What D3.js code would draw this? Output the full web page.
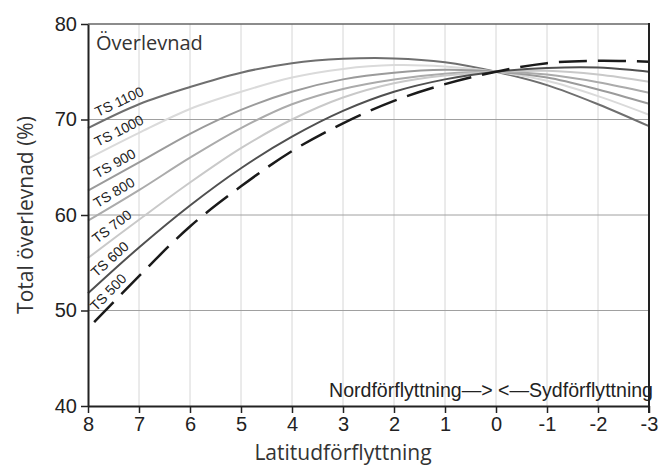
<!DOCTYPE html>
<html>
<head>
<meta charset="utf-8">
<script src="https://cdn.jsdelivr.net/npm/d3@7"></script>
<style>
    body { margin: 0; background: #fff; }
    svg { display: block; }
</style>
</head>
<body>
<svg id="chart"></svg>
<script>
// latitudförflyttning (x) och överlevnad i procent per temperatursumma
const latitude = [8, 7, 6, 5, 4, 3, 2, 1, 0, -1, -2, -3]
const ts1100 = [69.1, 71.6, 73.4, 74.9, 75.9, 76.35, 76.4, 76.0, 75, 73.6, 71.6, 69.3]
const ts1000 = [65.9, 68.6, 71.1, 72.9, 74.4, 75.3, 75.7, 75.55, 75, 74.05, 72.45, 70.5]
const ts900 = [62.55, 65.5, 68.5, 71.0, 72.9, 74.2, 74.9, 75.2, 75, 74.4, 73.15, 71.65]
const ts800 = [59.4, 62.6, 66.0, 69.1, 71.6, 73.2, 74.2, 74.8, 75, 74.7, 73.9, 72.8]
const ts700 = [55.5, 59.5, 63.4, 67.0, 70.0, 72.3, 73.8, 74.6, 75, 75.1, 74.7, 73.95]
const ts600 = [51.8, 56.6, 61.0, 64.9, 68.2, 70.9, 72.9, 74.2, 75, 75.4, 75.45, 75.0]
const ts500 = [48.1, 53.6, 58.8, 63.0, 66.7, 69.6, 71.95, 73.7, 75, 75.9, 76.15, 76.05]

const seriesNames = ['TS 1100', 'TS 1000', 'TS 900', 'TS 800', 'TS 700', 'TS 600', 'TS 500']
const seriesValues = [ts1100, ts1000, ts900, ts800, ts700, ts600, ts500]
const seriesColors = ['#6f6f6f', '#dadada', '#9b9b9b', '#ababab', '#c9c9c9', '#505050', '#1a1a1a']

const xTicks = [8, 7, 6, 5, 4, 3, 2, 1, 0, -1, -2, -3]
const yTicks = [40, 50, 60, 70, 80]

const width = 660
const height = 466
const margin = {top: 24, right: 11, bottom: 60, left: 88}

let svg = d3.select('#chart')
    .attr('width', width)
    .attr('height', height)

let x = d3.scaleLinear()
    .domain([8, -3])
    .range([margin.left, width - margin.right])

let y = d3.scaleLinear()
    .domain([40, 80])
    .range([height - margin.bottom, margin.top])

// rutnät
svg.append('g')
    .selectAll('line')
    .data(xTicks.filter(d => d !== 8 && d !== -3))
    .enter().append('line')
    .attr('x1', d => x(d)).attr('x2', d => x(d))
    .attr('y1', y(80)).attr('y2', y(40))
    .attr('stroke', '#d6d6d6')
    .attr('stroke-width', 1)

svg.append('g')
    .selectAll('line')
    .data([50, 60, 70])
    .enter().append('line')
    .attr('x1', x(8)).attr('x2', x(-3))
    .attr('y1', d => y(d)).attr('y2', d => y(d))
    .attr('stroke', '#a0a0a0')
    .attr('stroke-width', 1)

// ram upptill
svg.append('line')
    .attr('x1', x(8)).attr('x2', x(-3))
    .attr('y1', y(80)).attr('y2', y(80))
    .attr('stroke', '#666')
    .attr('stroke-width', 1.5)

// kurvor
let line = d3.line()
    .x((d, i) => x(latitude[i]))
    .y(d => y(d))
    .curve(d3.curveCatmullRom)

let series = seriesNames.map((name, i) => ({name: name, values: seriesValues[i], color: seriesColors[i]}))

svg.append('g')
    .selectAll('path')
    .data(series)
    .enter().append('path')
    .attr('d', d => line(d.values))
    .attr('fill', 'none')
    .attr('stroke', d => d.color)
    .attr('stroke-width', d => d.name === 'TS 500' ? 2.5 : 2)
    .attr('stroke-dasharray', d => d.name === 'TS 500' ? '28,11' : null)
    .attr('stroke-dashoffset', d => d.name === 'TS 500' ? 30 : null)

// etiketter längs kurvorna
svg.append('g')
    .selectAll('text')
    .data(series)
    .enter().append('text')
    .attr('transform', d => {
        let x0 = x(latitude[0]), y0 = y(d.values[0])
        let x1 = x(latitude[1]), y1 = y(d.values[1])
        let angle = Math.atan2(y1 - y0, x1 - x0) * 180 / Math.PI
        let px = x(7.76)
        let py = y0 + (y1 - y0) * (px - x0) / (x1 - x0)
        return 'translate(' + px + ',' + py + ') rotate(' + angle + ')'
    })
    .attr('dy', -6)
    .attr('font-family', 'Liberation Sans, Arial, sans-serif')
    .attr('font-size', 14)
    .attr('fill', '#222')
    .text(d => d.name)

// axlar
let xAxis = svg.append('g')
    .attr('transform', 'translate(0,' + y(40) + ')')
    .call(d3.axisBottom(x).tickValues(xTicks).tickSize(7).tickSizeOuter(0).tickFormat(d => String(d)))

let yAxis = svg.append('g')
    .attr('transform', 'translate(' + x(8) + ',0)')
    .call(d3.axisLeft(y).tickValues(yTicks).tickSize(7).tickSizeOuter(0))

for (let ax of [xAxis, yAxis]) {
    ax.select('.domain').attr('stroke', '#222').attr('stroke-width', 2)
    ax.selectAll('.tick line').attr('stroke', '#222').attr('stroke-width', 1.5)
    ax.selectAll('.tick text')
        .attr('font-family', 'Liberation Sans, Arial, sans-serif')
        .attr('font-size', 20)
        .attr('fill', '#222')
}
xAxis.selectAll('.tick text').attr('dy', '0.71em').attr('y', 11)
yAxis.selectAll('.tick text').attr('x', -11)

// höger ram
svg.append('line')
    .attr('x1', x(-3)).attr('x2', x(-3))
    .attr('y1', y(80) - 1).attr('y2', y(40) + 7)
    .attr('stroke', '#222')
    .attr('stroke-width', 2)

// texter
svg.append('text')
    .attr('x', 96)
    .attr('y', 50)
    .attr('font-family', 'Open Sans, sans-serif')
    .attr('font-size', 20)
    .attr('fill', '#333')
    .text('Överlevnad')

svg.append('text')
    .attr('x', 329)
    .attr('y', 397)
    .attr('font-family', 'Liberation Sans, Arial, sans-serif')
    .attr('font-size', 20)
    .attr('fill', '#222')
    .attr('textLength', 324)
    .attr('lengthAdjust', 'spacingAndGlyphs')
    .text('Nordförflyttning—> <—Sydförflyttning')

svg.append('text')
    .attr('x', 343)
    .attr('y', 460)
    .attr('text-anchor', 'middle')
    .attr('font-family', 'Open Sans, sans-serif')
    .attr('font-size', 21)
    .attr('fill', '#333')
    .text('Latitudförflyttning')

svg.append('text')
    .attr('transform', 'translate(33,' + 215 + ') rotate(-90)')
    .attr('text-anchor', 'middle')
    .attr('font-family', 'Open Sans, sans-serif')
    .attr('font-size', 21)
    .attr('fill', '#333')
    .text('Total överlevnad (%)')
</script>
</body>
</html>
